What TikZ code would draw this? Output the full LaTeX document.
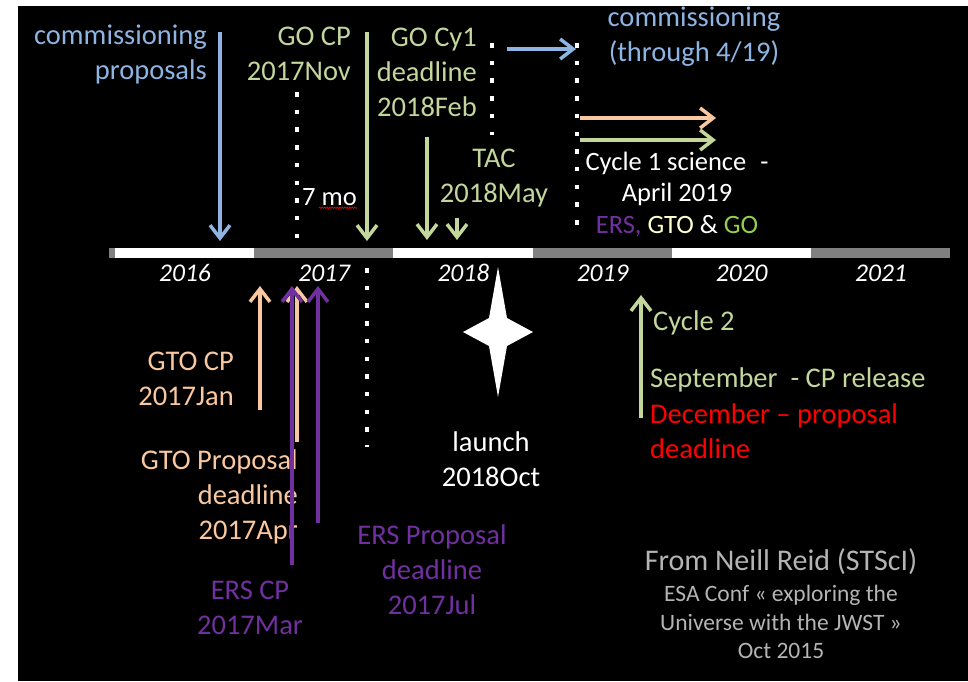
\documentclass[tikz,border=0pt]{standalone}
\usepackage{fontspec}
\setmainfont{Carlito}
\definecolor{myblue}{RGB}{141,180,226}
\definecolor{mygreen}{RGB}{195,214,155}
\definecolor{mypeach}{RGB}{250,200,160}
\definecolor{mypurple}{RGB}{112,48,160}
\definecolor{mygray}{RGB}{180,180,180}
\definecolor{mybar}{RGB}{128,128,128}
\definecolor{mylime}{RGB}{146,208,80}
\definecolor{mycream}{RGB}{255,255,204}
\usetikzlibrary{arrows.meta,positioning,decorations.pathmorphing}

\begin{document}
\begin{tikzpicture}[x=1pt,y=-1pt,
    every node/.style={inner sep=0pt,font=\fontsize{28.5}{35}\selectfont},
    arr/.style={line width=3.5pt,-{Straight Barb[length=13pt,width=20pt]}},
    dotline/.style={white,line width=4.5pt,dash pattern=on 4.5pt off 13.2pt},
    small/.style={font=\fontsize{26.5}{31.5}\selectfont},
    yearlbl/.style={white,font=\fontsize{25.5}{30}\selectfont\itshape},
    note/.style={mygray,align=center,font=\fontsize{23.5}{28.5}\selectfont},
    node distance=2pt
    ]

    % page and background
    \useasboundingbox (0,0) rectangle (968,681);
    \fill[white] (0,0) rectangle (968,681);
    \fill[black] (18,6) rectangle (968,681);

    % the time line
    \fill[mybar] (109,248) rectangle (950,258);
    \foreach \i in {0,2,4}
      \fill[white] ({115+139.2*\i},248) rectangle ({254.2+139.2*\i},258);
    \foreach \yr [count=\i from 0] in {2016,...,2021}
      \node (y\yr) [yearlbl] at ({185+139.2*\i},273) {\yr};

    % labels above the line
    \node (commprop) [myblue,align=right,anchor=east] at (207,54) {commissioning\\proposals};
    \node (gocp) [mygreen,align=right,anchor=east] at (351,54) {GO CP\\2017Nov};
    \node (gocy) [mygreen,align=right,anchor=east] at (477,72) {GO Cy1\\deadline\\2018Feb};
    \node (commthru) [myblue,align=center] at (694,37) {commissioning\\(through 4/19)};
    \node (tac) [mygreen,align=center] at (494,178) {TAC\\2018May};
    \node (sevenmo) [white,small,anchor=west] at (302,197) {7 mo};
    \node (cyc1) [white,small,align=center] at (677,194)
      {Cycle 1 science\hspace{14pt}-\\April 2019\\\textcolor{mypurple}{ERS,} \textcolor{mycream}{GTO} \& \textcolor{mylime}{GO}};
    \draw[red,line width=0.6pt,decorate,decoration={snake,amplitude=0.7pt,segment length=2.5pt}]
      (sevenmo.south east) ++(-38,2) -- ++(38,0);

    % labels below the line
    \node (gtocp) [mypeach,align=right,anchor=east] at (234,379) {GTO CP\\2017Jan};
    \node (gtoprop) [mypeach,align=right,anchor=east] at (298,497) {GTO Proposal\\deadline\\2017Apr};
    \node (erscp) [mypurple,align=center] at (250,608) {ERS CP\\2017Mar};
    \node (ersprop) [mypurple,align=center] at (432,570) {ERS Proposal\\deadline\\2017Jul};
    \node (launch) [white,align=center] at (491,459) {launch\\2018Oct};
    \node (cyc2) [mygreen,anchor=west] at (653,323) {Cycle 2};
    \node (sept) [mygreen,anchor=west] at (650,380) {September\ \ - CP release};
    \node (dec) [red,align=left,below=11pt of sept.south west,anchor=north west] {December -- proposal\\deadline};
    \node (from) [mygray,font=\fontsize{30}{36}\selectfont] at (781,562) {From Neill Reid (STScI)};
    \node (esa) [note] at (781,622) {ESA Conf « exploring the\\Universe with the JWST »\\Oct 2015};

    % launch star
    \fill[white] (498,267) -- (507,318) -- (533,332) -- (507,346) -- (498,397)
      -- (489,346) -- (463,332) -- (489,318) -- cycle;

    % dotted guides
    \coordinate (d1a) at (297,92);  \coordinate (d1b) at (297,238);
    \coordinate (d2a) at (367,268); \coordinate (d2b) at (367,447);
    \coordinate (d3a) at (492,43);  \coordinate (d3b) at (492,135);
    \coordinate (d4a) at (577,43);  \coordinate (d4b) at (577,232);
    \draw[dotline] (d1a) -- (d1b);
    \draw[dotline] (d2a) -- (d2b);
    \draw[dotline] (d3a) -- (d3b);
    \draw[dotline] (d4a) -- (d4b);

    % arrows
    \coordinate (a1) at (220,32);  \coordinate (b1) at (220,241);
    \coordinate (a2) at (367,32);  \coordinate (b2) at (367,241);
    \coordinate (a3) at (427,137); \coordinate (b3) at (427,240);
    \coordinate (a4) at (457,218); \coordinate (b4) at (457,240);
    \coordinate (a5) at (507,49);  \coordinate (b5) at (576,49);
    \coordinate (a6) at (580,118); \coordinate (b6) at (716,118);
    \coordinate (a7) at (580,140); \coordinate (b7) at (716,140);
    \coordinate (a8) at (260,410); \coordinate (b8) at (260,286);
    \coordinate (a9) at (297,442); \coordinate (b9) at (297,286);
    \coordinate (a10) at (292,565); \coordinate (b10) at (292,286);
    \coordinate (a11) at (318,523); \coordinate (b11) at (318,286);
    \coordinate (a12) at (641,418); \coordinate (b12) at (641,295);
    \draw[arr,myblue] (a1) -- (b1);
    \draw[arr,mygreen] (a2) -- (b2);
    \draw[arr,mygreen] (a3) -- (b3);
    \draw[arr,mygreen] (a4) -- (b4);
    \draw[arr,myblue] (a5) -- (b5);
    \draw[arr,mypeach] (a6) -- (b6);
    \draw[arr,mygreen] (a7) -- (b7);
    \draw[arr,mypeach] (a8) -- (b8);
    \draw[arr,mypeach] (a9) -- (b9);
    \draw[arr,mypurple] (a10) -- (b10);
    \draw[arr,mypurple] (a11) -- (b11);
    \draw[arr,mygreen] (a12) -- (b12);
\end{tikzpicture}
\end{document}
